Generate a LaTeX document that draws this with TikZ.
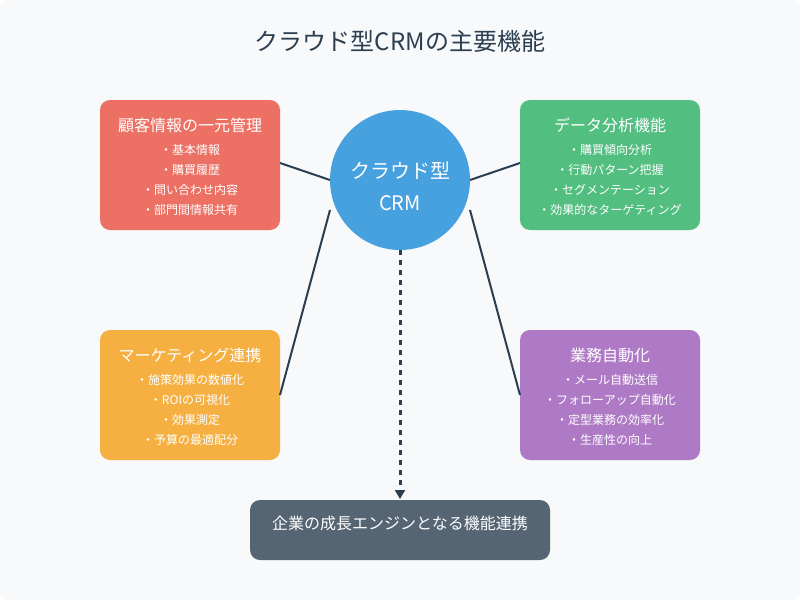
\documentclass[tikz,border=0pt]{standalone}
\usepackage{fontspec}
\setmainfont{Noto Sans CJK JP}
\usetikzlibrary{arrows.meta}
\definecolor{bgc}{HTML}{F7F9FB}
\definecolor{titlec}{HTML}{2C3E50}
\definecolor{redc}{HTML}{EC7063}
\definecolor{greenc}{HTML}{52BE80}
\definecolor{orangec}{HTML}{F5B041}
\definecolor{purplec}{HTML}{AF7AC5}
\definecolor{slatec}{HTML}{566573}
\definecolor{bluec}{HTML}{47A1DE}
\tikzset{
  box/.style={draw=none, rounded corners=10pt, minimum width=180pt, minimum height=130pt, inner sep=0pt},
  btitle/.style={text=white, font=\fontsize{16}{18}\selectfont, inner sep=0pt},
  bitem/.style={text=white, font=\fontsize{12}{14}\selectfont, inner sep=0pt},
  conn/.style={draw=titlec, line width=2pt},
}
\begin{document}
\begin{tikzpicture}[x=1pt,y=-1pt]
\fill[bgc, rounded corners=8pt] (0,0) rectangle (800,600);
\useasboundingbox (0,0) rectangle (800,600);
\node[text=titlec, font=\fontsize{24}{28}\selectfont, inner sep=0pt] (title) at (400,41) {クラウド型CRMの主要機能};

% boxes
\node[box, fill=redc] (b1) at (190,165) {};
\node[box, fill=greenc] (b2) at (610,165) {};
\node[box, fill=orangec] (b3) at (190,395) {};
\node[box, fill=purplec] (b4) at (610,395) {};
\node[draw=none, fill=slatec, rounded corners=10pt, minimum width=300pt, minimum height=60pt, inner sep=0pt] (b5) at (400,530) {};
\node[text=white, font=\fontsize{16}{18}\selectfont, inner sep=0pt] (b5t) at (400,523) {企業の成長エンジンとなる機能連携};

% circle
\node[circle, fill=bluec, minimum size=140pt, inner sep=0pt] (c) at (400,180) {};
\node[text=white, font=\fontsize{20}{22}\selectfont, inner sep=0pt] (c1) at (400,171) {クラウド型};
\node[text=white, font=\fontsize{20}{22}\selectfont, inner sep=0pt] (c2) at (400,203) {CRM};

% box texts
\node[btitle] (t1) at (190,125) {顧客情報の一元管理};
\node[bitem] (t1a) at (190,150) {・基本情報};
\node[bitem] (t1b) at (190,170) {・購買履歴};
\node[bitem] (t1c) at (190,190) {・問い合わせ内容};
\node[bitem] (t1d) at (190,210) {・部門間情報共有};

\node[btitle] (t2) at (610,125) {データ分析機能};
\node[bitem] (t2a) at (610,150) {・購買傾向分析};
\node[bitem] (t2b) at (610,170) {・行動パターン把握};
\node[bitem] (t2c) at (610,190) {・セグメンテーション};
\node[bitem] (t2d) at (610,210) {・効果的なターゲティング};

\node[btitle] (t3) at (190,355) {マーケティング連携};
\node[bitem] (t3a) at (190,380) {・施策効果の数値化};
\node[bitem] (t3b) at (190,400) {・ROIの可視化};
\node[bitem] (t3c) at (190,420) {・効果測定};
\node[bitem] (t3d) at (190,440) {・予算の最適配分};

\node[btitle] (t4) at (610,355) {業務自動化};
\node[bitem] (t4a) at (610,380) {・メール自動送信};
\node[bitem] (t4b) at (610,400) {・フォローアップ自動化};
\node[bitem] (t4c) at (610,420) {・定型業務の効率化};
\node[bitem] (t4d) at (610,440) {・生産性の向上};

% connector endpoints
\coordinate (p1) at (280,163);
\coordinate (q1) at (330,180);
\coordinate (p2) at (520,163);
\coordinate (q2) at (470,180);
\coordinate (p3) at (280,395);
\coordinate (q3) at (330,210);
\coordinate (p4) at (520,395);
\coordinate (q4) at (470,210);
\coordinate (s5) at (400,250);
\coordinate (e5) at (400,499);

\draw[conn] (p1) -- (q1);
\draw[conn] (q2) -- (p2);
\draw[conn] (q3) -- (p3);
\draw[conn] (q4) -- (p4);
\draw[conn, line width=3pt, dash pattern=on 5pt off 5pt, -{Triangle[length=9pt,width=10pt]}] (s5) -- (e5);
\end{tikzpicture}
\end{document}
